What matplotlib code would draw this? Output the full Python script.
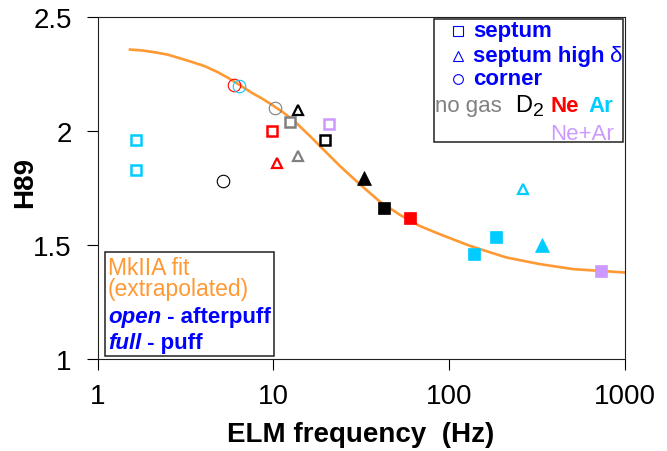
import matplotlib

matplotlib.use("Agg")
import matplotlib.pyplot as plt
from matplotlib.lines import Line2D
from matplotlib.patches import Rectangle
from matplotlib.text import Annotation

plt.rcParams["font.family"] = ["Liberation Sans", "DejaVu Sans"]

W, H = 667, 452

# gas colour code
gas_colors = {
    "none": "#808080",
    "D2": "#000000",
    "Ne": "#ff0000",
    "Ar": "#00ccff",
    "NeAr": "#cc99ff",
}

# septum, open (afterpuff)
septum_open_f = [1.65, 1.65, 9.77, 12.5, 19.7, 20.7]
septum_open_h = [1.96, 1.83, 2.00, 2.04, 1.96, 2.03]
septum_open_gas = ["Ar", "Ar", "Ne", "none", "D2", "NeAr"]

# septum, full (puff)
septum_full_f = [42.4, 60.2, 138, 184.5, 733]
septum_full_h = [1.66, 1.62, 1.46, 1.535, 1.385]
septum_full_gas = ["D2", "Ne", "Ar", "Ar", "NeAr"]

# septum high delta, open
high_open_f = [10.5, 13.8, 13.9, 262]
high_open_h = [1.86, 2.09, 1.89, 1.745]
high_open_gas = ["Ne", "D2", "none", "Ar"]

# septum high delta, full
high_full_f = [32.7, 339]
high_full_h = [1.795, 1.50]
high_full_gas = ["D2", "Ar"]

# corner, open
corner_open_f = [5.19, 5.99, 6.37, 10.2]
corner_open_h = [1.78, 2.20, 2.195, 2.10]
corner_open_gas = ["D2", "Ne", "Ar", "none"]

# MkIIA fit curve (extrapolated)
fit_f = [1.53, 1.8, 2.12, 2.5, 2.88, 3.4, 4.08, 4.8, 5.53, 6.4, 7.52, 8.6,
         9.77, 11.4, 13.2, 16.5, 18.8, 23.9, 30.3, 40.3, 52.4, 68.0, 88.3,
         131, 211, 327, 505, 1000]
fit_h = [2.356, 2.352, 2.344, 2.334, 2.320, 2.303, 2.283, 2.258, 2.232,
         2.202, 2.167, 2.142, 2.115, 2.080, 2.042, 1.970, 1.926, 1.846,
         1.773, 1.69, 1.632, 1.583, 1.547, 1.496, 1.445, 1.416, 1.394,
         1.379]

x_ticks = [1, 10, 100, 1000]
y_ticks = [1, 1.5, 2, 2.5]

ORANGE = "#ff9933"
BLUE = "#0000ff"


def px(x, y):
    """Pixel position (from top-left) -> figure fraction."""
    return x / W, 1 - y / H


def after(fig, prev, text, **kw):
    """Put `text` directly to the right of the text artist `prev`."""
    ann = Annotation(text, xy=(1, 0), xycoords=prev, va="bottom",
                     annotation_clip=False, zorder=6, **kw)
    fig.add_artist(ann)
    return ann


fig = plt.figure(figsize=(W / 100, H / 100), dpi=100)
ax = fig.add_axes([97.5 / W, 1 - 360 / H, (625 - 97.5) / W, (360 - 17.7) / H])

ax.plot(fit_f, fit_h, color=ORANGE, lw=1.9, zorder=2)


def draw(freq, h89, gas, marker, filled, size, lw):
    for f, h, g in zip(freq, h89, gas):
        c = gas_colors[g]
        if filled:
            ax.plot(f, h, marker=marker, ms=size, mfc=c, mec=c, mew=0.5,
                    ls="none", zorder=3)
        else:
            face = "none" if marker == "o" else "white"
            ax.plot(f, h, marker=marker, ms=size, mfc=face, mec=c, mew=lw,
                    ls="none", zorder=3)


draw(septum_open_f, septum_open_h, septum_open_gas, "s", False, 7.2, 1.8)
draw(septum_full_f, septum_full_h, septum_full_gas, "s", True, 9.0, 0)
draw(high_open_f, high_open_h, high_open_gas, "^", False, 7.5, 1.6)
draw(high_full_f, high_full_h, high_full_gas, "^", True, 9.5, 0)
draw(corner_open_f, corner_open_h, corner_open_gas, "o", False, 9.0, 0.8)

ax.set_xscale("log")
ax.set_xlim(1, 1000)
ax.set_ylim(1, 2.5)
ax.set_xticks(x_ticks)
ax.set_xticklabels([str(t) for t in x_ticks])
ax.set_yticks(y_ticks)
ax.set_yticklabels(["1", "1.5", "2", "2.5"])
ax.minorticks_off()
ax.tick_params(direction="out", length=7.6, width=0.8, labelsize=20,
               color="black")
ax.tick_params(axis="x", pad=10)
ax.tick_params(axis="y", pad=11)
for sp in ax.spines.values():
    sp.set_color("#202020")
    sp.set_linewidth(0.8)

fig.text(*px(361, 441.7), "ELM frequency  (Hz)", ha="center", va="baseline",
         fontsize=20, fontweight="bold")
fig.text(*px(25, 183), "H89", rotation=90, ha="center", va="center",
         fontsize=20, fontweight="bold")

# key box, top right
fig.add_artist(Rectangle(px(434, 143.3), (622.7 - 434) / W, (143.3 - 20) / H,
                         transform=fig.transFigure, fc="white",
                         ec="#202020", lw=1.1, zorder=5))
key_fs = 16
for y, marker, ms in [(31.7, "s", 6.5), (56.7, "^", 7.0), (80, "o", 7.0)]:
    fig.add_artist(Line2D([458 / W], [1 - y / H], marker=marker, ms=ms,
                          mfc="none", mec=BLUE, mew=0.8,
                          transform=fig.transFigure, zorder=6))
fig.text(*px(473, 36.7), "septum", color=BLUE, fontsize=key_fs,
         fontweight="bold", va="baseline", zorder=6)
t = fig.text(*px(473, 61.7), "septum high", color=BLUE, fontsize=key_fs,
             fontweight="bold", va="baseline", zorder=6)
after(fig, t, " δ", color=BLUE, fontsize=key_fs)
fig.text(*px(473, 85), "corner", color=BLUE, fontsize=key_fs,
         fontweight="bold", va="baseline", zorder=6)

fig.text(*px(435, 111.7), "no gas", color=gas_colors["none"],
         fontsize=key_fs, va="baseline", zorder=6)
d = fig.text(*px(515.5, 111.7), "D", color="black", fontsize=key_fs + 1,
             va="baseline", zorder=6)
sub = Annotation("2", xy=(1, 0), xycoords=d, xytext=(0.5, -2.5),
                 textcoords="offset points", va="bottom", color="black",
                 fontsize=key_fs - 2, annotation_clip=False, zorder=6)
fig.add_artist(sub)
fig.text(*px(550.7, 111.7), "Ne", color=gas_colors["Ne"], fontsize=key_fs,
         fontweight="bold", va="baseline", zorder=6)
fig.text(*px(588.3, 111.7), "Ar", color=gas_colors["Ar"], fontsize=key_fs,
         fontweight="bold", va="baseline", zorder=6)
fig.text(*px(550, 140), "Ne+Ar", color=gas_colors["NeAr"], fontsize=key_fs,
         va="baseline", zorder=6)

# fit / puff key box, bottom left
fig.add_artist(Rectangle(px(105, 357.3), (274 - 105) / W, (357.3 - 253.3) / H,
                         transform=fig.transFigure, fc="white",
                         ec="#202020", lw=1.1, zorder=5))
fig.text(*px(108, 275), "MkIIA fit", color=ORANGE, fontsize=16.5,
         va="baseline", zorder=6)
fig.text(*px(108, 296), "(extrapolated)", color=ORANGE, fontsize=16.5,
         va="baseline", zorder=6)
o = fig.text(*px(108, 323.3), "open", color=BLUE, fontsize=key_fs,
             fontweight="bold", style="italic", va="baseline", zorder=6)
after(fig, o, " - afterpuff", color=BLUE, fontsize=key_fs, fontweight="bold")
u = fig.text(*px(108, 349.3), "full", color=BLUE, fontsize=key_fs,
             fontweight="bold", style="italic", va="baseline", zorder=6)
after(fig, u, " - puff", color=BLUE, fontsize=key_fs, fontweight="bold")

fig.savefig("out.png", dpi=100)
